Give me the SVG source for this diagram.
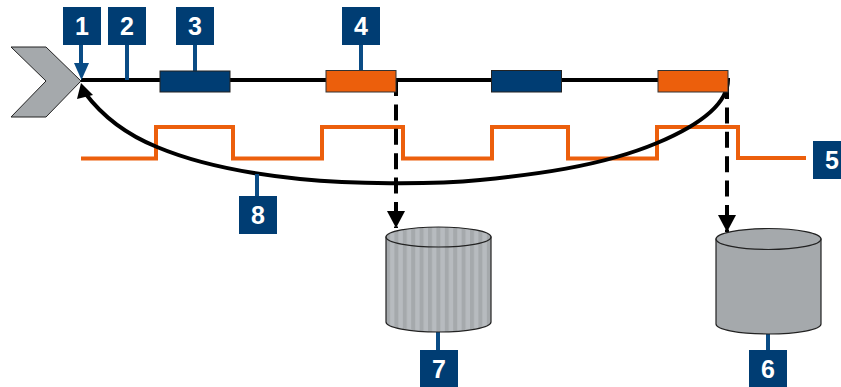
<svg xmlns="http://www.w3.org/2000/svg" width="841" height="387" viewBox="0 0 841 387">
<style>
.tag{fill:#003d73}
.tag text{fill:#fff;font:bold 25px "Liberation Sans",Arial,sans-serif;text-anchor:middle}
.lead{stroke:#0a4c85;stroke-width:4;fill:none}
.blue{fill:#003d73;stroke:#222;stroke-width:1}
.orange{fill:#ec5f0c;stroke:#333;stroke-width:1}
.cyl{fill:#a5a9ac;stroke:#222;stroke-width:1.2}
.wire{stroke:#000;stroke-width:4;fill:none}
.dash{stroke:#000;stroke-width:4;fill:none;stroke-dasharray:16 8.400}
.sig{stroke:#ec5f0c;stroke-width:4;fill:none}
</style>
<defs>
<marker id="a" markerUnits="userSpaceOnUse" markerWidth="20" markerHeight="20" refX="17" refY="9" orient="auto"><path d="M0 0L17 9L0 18z" fill="#000"/></marker>
<pattern id="st" patternUnits="userSpaceOnUse" width="8.400" height="10" x="386"><rect width="8.400" height="10" fill="#a5a9ac"/><rect x="4" width="4.400" height="10" fill="#b7bbbf"/></pattern>
</defs>
<g id="connectors">
<path class="wire" d="M81 80H728"/>
<path class="sig" d="M81 158.500H156V127H233V158.500H322V127H403V158.500H492V127H568V158.500H657V127H738V158H806"/>
<path class="wire" d="M728 78C729 105 695 127 657 143C600 167 530 175 480 180C430 185 350 184 300 179C250 174 200 165 157 147C125 134 103 117 85 93"/>
<path d="M81 83L93 95L77 99z" fill="#000"/>
<path class="dash" marker-end="url(#a)" d="M396 80V228"/>
<path class="dash" marker-end="url(#a)" d="M727 83V232"/>
<path class="lead" d="M81 44V65M127 44V80M195 44V71M361 44V71M257 174V196M438 332V350M768 334V350"/>
<path fill="#0a4c85" d="M74 63H89L81.500 80z"/>
</g>
<g id="chevron"><path d="M11 47H46L81 81L46 117H11L46 81z" fill="#a5a9ac" stroke="#222" stroke-width="1"/></g>
<g id="block-a"><rect class="blue" x="160" y="71" width="70" height="21"/></g>
<g id="block-b"><rect class="orange" x="326" y="70.500" width="70" height="21.500"/></g>
<g id="block-c"><rect class="blue" x="491.500" y="70.500" width="70" height="21.500"/></g>
<g id="block-d"><rect class="orange" x="658" y="70.500" width="70" height="21.500"/></g>
<g id="cylinder-7"><path d="M386 237V322A52.500 10 0 0 0 491 322V237z" fill="url(#st)" stroke="#222" stroke-width="1.200"/><ellipse cx="438.500" cy="237" rx="52.500" ry="10" fill="url(#st)" stroke="#222" stroke-width="1.200"/></g>
<g id="cylinder-6"><path class="cyl" d="M716 239V324A52.500 10 0 0 0 821 324V239z"/><ellipse class="cyl" cx="768.500" cy="239" rx="52.500" ry="10.500"/></g>
<g id="tag-1" class="tag"><rect x="63" y="7" width="38" height="38"/><text x="82" y="35">1</text></g>
<g id="tag-2" class="tag"><rect x="108" y="7" width="38" height="38"/><text x="127" y="35">2</text></g>
<g id="tag-3" class="tag"><rect x="176" y="7" width="38" height="38"/><text x="195" y="35">3</text></g>
<g id="tag-4" class="tag"><rect x="342" y="7" width="38" height="38"/><text x="361" y="35">4</text></g>
<g id="tag-5" class="tag"><rect x="813" y="141" width="28" height="38"/><text x="832" y="169">5</text></g>
<g id="tag-6" class="tag"><rect x="749" y="350" width="38" height="37"/><text x="768" y="378">6</text></g>
<g id="tag-7" class="tag"><rect x="420" y="350" width="38" height="37"/><text x="439" y="378">7</text></g>
<g id="tag-8" class="tag"><rect x="239" y="196" width="38" height="38"/><text x="258" y="224">8</text></g>
</svg>
